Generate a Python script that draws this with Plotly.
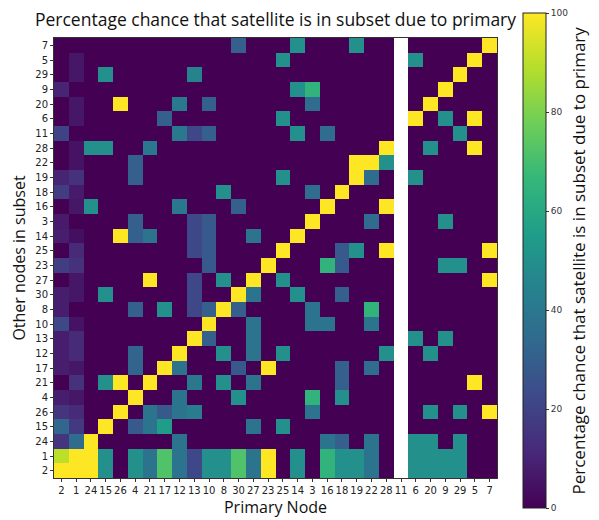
import plotly.graph_objects as go
import math

primary_nodes = ["2", "1", "24", "15", "26", "4", "21", "17", "12", "13", "10", "8", "30", "27", "23",
                 "25", "14", "3", "16", "18", "19", "22", "28", "11", "6", "20", "9", "29", "5", "7"]
other_nodes = ["7", "5", "29", "9", "20", "6", "11", "28", "22", "19", "18", "16", "3", "14", "25",
               "23", "27", "30", "8", "10", "13", "12", "17", "21", "4", "26", "15", "24", "1", "2"]

# percentage values, one row per "other node" (top to bottom), columns follow primary_nodes
N = None
pct = [
    # 2  1  24  15  26  4  21  17  12  13  10   8  30  27  23  25  14   3  16  18  19  22  28  11   6  20   9  29   5    7
    [0, 0, 0, 0, 0, 0, 0, 0, 0, 0, 0, 0, 30, 0, 0, 0, 50, 0, 0, 0, 50, 0, 0, N, 0, 0, 0, 0, 0, 100],      # 7
    [0, 6, 0, 0, 0, 0, 0, 0, 0, 0, 0, 0, 0, 0, 0, 50, 0, 0, 0, 0, 0, 0, 0, N, 50, 0, 0, 0, 100, 0],       # 5
    [0, 6, 0, 50, 0, 0, 0, 0, 0, 45, 0, 0, 0, 0, 0, 0, 0, 0, 0, 0, 0, 0, 0, N, 0, 0, 0, 100, 0, 0],       # 29
    [10, 0, 0, 0, 0, 0, 0, 0, 0, 0, 0, 0, 0, 0, 0, 0, 50, 65, 0, 0, 0, 0, 0, N, 0, 0, 100, 0, 0, 0],      # 9
    [0, 6, 0, 0, 100, 0, 0, 0, 40, 0, 30, 0, 0, 0, 0, 0, 0, 35, 0, 0, 0, 0, 0, N, 0, 100, 0, 0, 0, 0],    # 20
    [0, 6, 0, 0, 0, 0, 0, 30, 0, 0, 0, 0, 0, 0, 0, 50, 0, 0, 0, 0, 0, 0, 0, N, 100, 0, 50, 0, 100, 0],    # 6
    [20, 0, 0, 0, 0, 0, 0, 0, 40, 22, 30, 0, 0, 0, 0, 0, 50, 0, 35, 0, 0, 0, 0, N, 0, 0, 0, 50, 0, 0],    # 11
    [0, 5, 50, 50, 0, 0, 40, 0, 0, 0, 0, 0, 0, 0, 0, 0, 0, 0, 0, 0, 0, 0, 100, N, 0, 50, 0, 0, 100, 0],   # 28
    [0, 5, 0, 0, 0, 30, 0, 0, 0, 0, 0, 0, 0, 0, 0, 0, 0, 0, 0, 0, 100, 100, 50, N, 0, 0, 0, 0, 0, 0],     # 22
    [10, 14, 0, 0, 0, 30, 0, 0, 0, 0, 0, 0, 0, 0, 0, 50, 0, 0, 0, 0, 100, 35, 0, N, 50, 0, 0, 0, 0, 0],   # 19
    [18, 7, 0, 0, 0, 0, 0, 0, 0, 0, 0, 50, 0, 0, 0, 0, 0, 35, 0, 100, 0, 0, 0, N, 0, 0, 0, 0, 0, 0],      # 18
    [0, 6, 50, 0, 0, 0, 0, 0, 40, 0, 0, 0, 30, 0, 0, 0, 0, 0, 100, 0, 0, 0, 100, N, 0, 0, 0, 0, 0, 0],    # 16
    [7, 0, 0, 0, 0, 30, 0, 0, 0, 22, 28, 0, 0, 0, 0, 0, 0, 100, 0, 0, 0, 35, 0, N, 0, 0, 50, 0, 0, 0],    # 3
    [8, 4, 0, 0, 100, 30, 38, 0, 0, 22, 28, 0, 0, 38, 0, 0, 100, 0, 0, 0, 0, 0, 0, N, 0, 0, 0, 0, 0, 0],  # 14
    [0, 12, 0, 0, 0, 0, 0, 0, 0, 22, 28, 0, 0, 0, 0, 100, 0, 0, 0, 28, 50, 0, 100, N, 0, 0, 0, 0, 0, 100],  # 25
    [18, 14, 0, 0, 0, 0, 0, 0, 0, 0, 28, 0, 0, 0, 100, 0, 0, 0, 65, 28, 0, 0, 0, N, 0, 0, 50, 50, 0, 0],  # 23
    [0, 6, 0, 0, 0, 0, 100, 0, 0, 22, 0, 50, 0, 100, 0, 50, 0, 0, 0, 0, 0, 0, 0, N, 0, 0, 0, 0, 0, 100],  # 27
    [8, 6, 0, 50, 0, 0, 0, 0, 0, 22, 0, 0, 100, 38, 0, 0, 50, 0, 0, 30, 0, 0, 0, N, 0, 0, 0, 0, 0, 0],    # 30
    [8, 0, 0, 0, 0, 30, 0, 50, 0, 22, 30, 100, 30, 0, 0, 0, 0, 38, 0, 0, 0, 65, 0, N, 0, 0, 0, 0, 0, 0],  # 8
    [22, 5, 0, 0, 0, 0, 0, 0, 0, 0, 100, 0, 0, 38, 0, 0, 0, 38, 38, 0, 0, 38, 0, N, 0, 0, 0, 0, 0, 0],   # 10
    [8, 12, 0, 0, 0, 0, 0, 0, 0, 100, 30, 0, 0, 38, 0, 0, 0, 0, 0, 0, 0, 0, 0, N, 50, 0, 50, 0, 0, 0],   # 13
    [8, 12, 0, 0, 0, 32, 0, 0, 100, 0, 0, 50, 0, 38, 0, 50, 0, 0, 0, 0, 0, 0, 50, N, 0, 50, 0, 0, 0, 0],  # 12
    [8, 6, 0, 0, 0, 32, 0, 100, 38, 0, 0, 0, 28, 0, 100, 0, 0, 0, 0, 30, 0, 35, 0, N, 0, 0, 0, 0, 0, 0],  # 17
    [0, 14, 0, 50, 100, 0, 100, 0, 0, 40, 0, 50, 0, 38, 0, 0, 0, 0, 0, 30, 0, 0, 0, N, 0, 0, 0, 0, 100, 0],  # 21
    [8, 6, 0, 0, 0, 100, 0, 0, 38, 0, 0, 0, 50, 0, 0, 0, 0, 65, 0, 50, 0, 0, 0, N, 0, 0, 0, 0, 0, 0],     # 4
    [15, 12, 0, 0, 100, 0, 38, 28, 38, 42, 0, 0, 0, 0, 0, 0, 0, 38, 0, 0, 0, 0, 0, N, 0, 50, 0, 50, 0, 100],  # 26
    [33, 17, 0, 100, 0, 28, 38, 55, 0, 0, 0, 0, 0, 38, 0, 50, 0, 0, 0, 0, 0, 0, 0, N, 0, 0, 0, 0, 0, 0],  # 15
    [15, 35, 100, 0, 0, 0, 0, 0, 38, 0, 0, 0, 0, 0, 0, 0, 0, 0, 38, 30, 0, 38, 0, N, 50, 50, 0, 50, 0, 0],  # 24
    [90, 100, 100, 50, 0, 50, 38, 72, 38, 22, 50, 50, 72, 38, 100, 0, 50, 0, 65, 50, 50, 38, 0, N, 50, 50, 50, 50, 0, 0],  # 1
    [100, 100, 100, 50, 0, 50, 38, 72, 38, 22, 50, 50, 72, 38, 100, 0, 50, 0, 65, 50, 50, 38, 0, N, 50, 50, 50, 50, 0, 0],  # 2
]

z = [[(math.nan if v is None else v) for v in row] for row in pct]

# the page places the figure 8px in from the top-left corner (default body margin)
OFF = 8
W, H = 599 - OFF, 520 - OFF
# plot area in window pixels, converted to figure pixels
L, R, T, B = 54 - OFF, 497 - OFF, 38 - OFF, 478 - OFF
CB_LEFT = 523 - OFF
CB_TOP, CB_BOT = 13 - OFF, 508 - OFF
CB_TITLE_X = 578 - OFF
TITLE_MID = 20 - OFF

title_text = "Percentage chance that satellite is in subset due to primary"
cb_title = "Percentage chance that satellite is in subset due to primary"

fig = go.Figure(go.Heatmap(
    z=z, x=primary_nodes, y=other_nodes,
    colorscale="Viridis", zmin=0, zmax=100,
    hoverongaps=False,
    colorbar=dict(
        thickness=23, thicknessmode="pixels",
        len=CB_BOT - CB_TOP, lenmode="pixels",
        x=(CB_LEFT - L) / (R - L), xanchor="left", xpad=0,
        y=(B - CB_TOP) / (B - T), yanchor="top", ypad=0,
        outlinewidth=1, outlinecolor="#222",
        tickvals=[0, 20, 40, 60, 80, 100],
        ticks="outside", ticklen=3, tickcolor="#333",
        tickfont=dict(family="DejaVu Sans", size=9, color="#333"),
    ),
))

fig.add_annotation(
    text=cb_title, textangle=-90, showarrow=False,
    xref="paper", yref="paper",
    x=(CB_TITLE_X - L) / (R - L), y=(B - (CB_TOP + CB_BOT) / 2) / (B - T),
    xanchor="center", yanchor="middle",
    font=dict(family="Open Sans", size=17, color="#111"),
)

fig.update_layout(
    width=W, height=H,
    margin=dict(l=L, r=W - R, t=T, b=H - B, autoexpand=False),
    paper_bgcolor="white", plot_bgcolor="white",
    title=dict(text=title_text,
               x=(L + R) / 2 / W, xanchor="center",
               y=1 - TITLE_MID / H, yanchor="middle",
               font=dict(family="Open Sans", size=17.5, color="#111")),
    xaxis=dict(type="category", categoryorder="array", categoryarray=primary_nodes,
               automargin=False,
               ticks="outside", ticklen=3, tickcolor="#333",
               showline=True, linecolor="#333", linewidth=1, mirror=True,
               tickfont=dict(family="DejaVu Sans", size=10, color="#222"),
               title=dict(text="Primary Node", standoff=6,
                          font=dict(family="Open Sans", size=16, color="#111")),
               showgrid=False, zeroline=False),
    yaxis=dict(type="category", categoryorder="array", categoryarray=other_nodes,
               autorange="reversed", automargin=False,
               ticks="outside", ticklen=3, tickcolor="#333",
               showline=True, linecolor="#333", linewidth=1, mirror=True,
               tickfont=dict(family="DejaVu Sans", size=10, color="#222"),
               title=dict(text="Other nodes in subset", standoff=6,
                          font=dict(family="Open Sans", size=16, color="#111")),
               showgrid=False, zeroline=False),
)

fig.write_html("out.html")
